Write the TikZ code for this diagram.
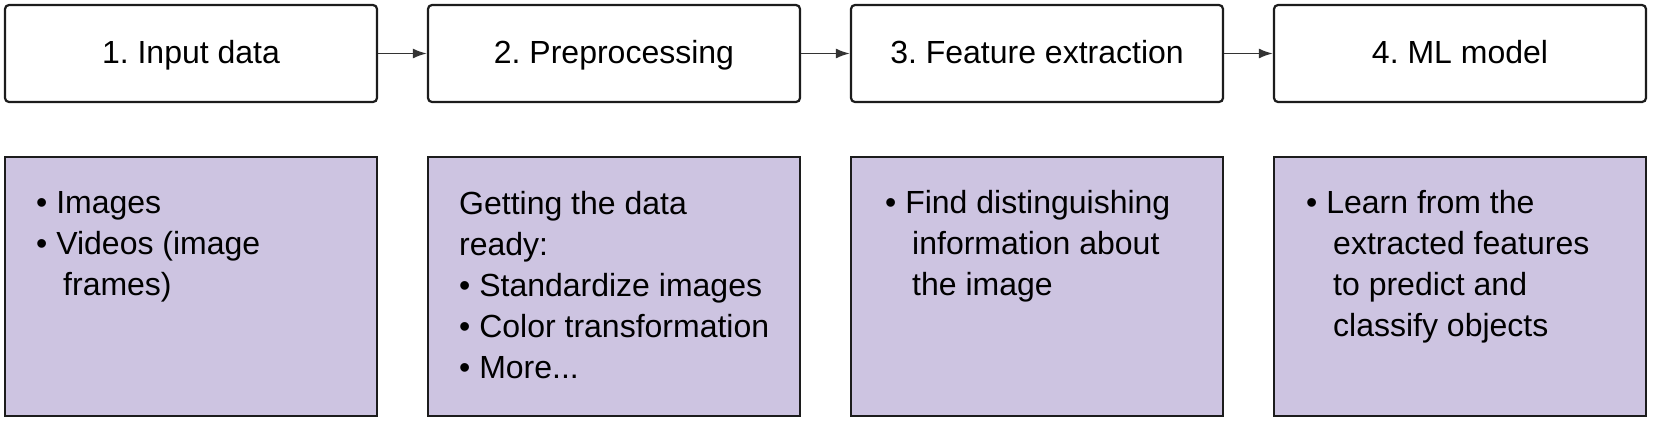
\documentclass[tikz,border=0pt]{standalone}
\usepackage{fontspec}
\setmainfont{Liberation Sans}
\usetikzlibrary{arrows.meta}
\definecolor{lav}{RGB}{205,196,225}
\definecolor{edgec}{RGB}{28,28,28}
\frenchspacing
\newcommand\itembul{•\ }
\newcommand\contind{\hspace*{27bp}}
\newcommand\linestack[1]{\vtop{\halign{##\hfil\cr#1\crcr}}}
\begin{document}
\begin{tikzpicture}[x=1bp,y=-1bp,
  topbox/.style={draw=edgec,line width=2.2bp,rounded corners=4bp,minimum width=372bp,minimum height=97bp,inner sep=0pt,fill=white,
    font=\fontsize{32bp}{38bp}\selectfont,text height=23bp,text depth=4bp},
  detailbox/.style={draw=edgec,line width=2.2bp,fill=lav,minimum width=372bp,minimum height=259bp,inner sep=0pt},
  body/.style={font=\fontsize{32bp}{41bp}\selectfont,anchor=base west,inner sep=0pt},
  flow/.style={draw=edgec!90,line width=1.8bp,-{Latex[length=14bp,width=10bp]}}
]
\path[use as bounding box] (0,0) rectangle (1658,426);
\node[topbox] (t1) at (191,53.5) {1. Input data};
\node[topbox] (t2) at (614,53.5) {2. Preprocessing};
\node[topbox] (t3) at (1037,53.5) {3. Feature extraction};
\node[topbox] (t4) at (1460,53.5) {4. ML model};
\draw[flow] (t1) -- (t2);
\draw[flow] (t2) -- (t3);
\draw[flow] (t3) -- (t4);
\node[detailbox] (d1) at (191,286.5) {};
\node[detailbox] (d2) at (614,286.5) {};
\node[detailbox] (d3) at (1037,286.5) {};
\node[detailbox] (d4) at (1460,286.5) {};
\node[body] (b1) at (36,213) {\linestack{\itembul Images\cr\itembul Videos (image\cr\contind frames)}};
\node[body] (b2) at (459,214) {\linestack{Getting the data\cr ready:\cr\itembul Standardize images\cr\itembul Color transformation\cr\itembul More...}};
\node[body] (b3) at (885,213) {\linestack{\itembul Find distinguishing\cr\contind information about\cr\contind the image}};
\node[body] (b4) at (1306,213) {\linestack{\itembul Learn from the\cr\contind extracted features\cr\contind to predict and\cr\contind classify objects}};
\end{tikzpicture}
\end{document}
